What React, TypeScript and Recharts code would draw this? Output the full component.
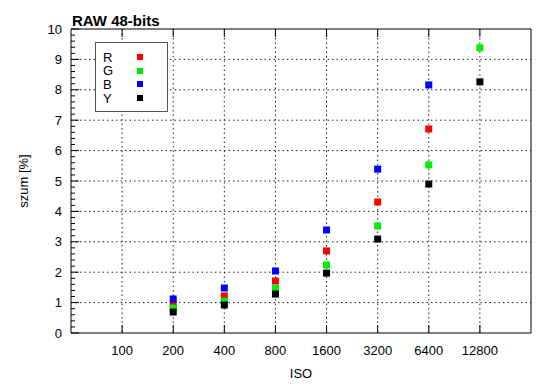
import React from 'react';
import {
  ScatterChart, Scatter, XAxis, YAxis, CartesianGrid, ReferenceArea,
} from 'recharts';

const isoLabels = ['100', '200', '400', '800', '1600', '3200', '6400', '12800'];
const rbIndex = [1, 2, 3, 4, 5, 6];
const gyIndex = [1, 2, 3, 4, 5, 6, 7];
const rValues = [0.95, 1.22, 1.71, 2.7, 4.31, 6.71];
const gValues = [0.82, 1.05, 1.48, 2.24, 3.52, 5.53, 9.38];
const bValues = [1.12, 1.48, 2.04, 3.39, 5.39, 8.16];
const yValues = [0.69, 0.92, 1.28, 1.97, 3.09, 4.9, 8.26];
const seriesNames = ['R', 'G', 'B', 'Y'];
const seriesColors = ['#ff0000', '#00ee00', '#0000ff', '#000000'];

const toPoints = (idx: number[], vals: number[]) => idx.map((x, i) => ({ x, y: vals[i] }));
const seriesData = [
  toPoints(rbIndex, rValues),
  toPoints(gyIndex, gValues),
  toPoints(rbIndex, bValues),
  toPoints(gyIndex, yValues),
];

const yTicks: number[] = [];
for (let i = 0; i <= 50; i++) yTicks.push(Math.round(i * 2) / 10);
const gridY = [1, 2, 3, 4, 5, 6, 7, 8, 9];
const xTicks = [0, 1, 2, 3, 4, 5, 6, 7];

const W = 550;
const H = 389;
const PL = 71;
const PR = 531;
const PT = 29;
const PB = 333;
const FONT = '"Liberation Sans", Arial, sans-serif';

const isMajor = (v: number) => Math.abs(v - Math.round(v)) < 1e-6;

const LeftTick = (props: any) => {
  const { y, payload } = props;
  const major = isMajor(payload.value);
  return (
    <g>
      <line x1={PL} x2={PL + (major ? 8 : 4)} y1={y} y2={y} stroke="#000" strokeWidth={1} />
      {major && (
        <text x={PL - 9} y={y} textAnchor="end" dominantBaseline="central" fontSize={13} fontFamily={FONT} fill="#000">
          {payload.value}
        </text>
      )}
    </g>
  );
};

const RightTick = (props: any) => {
  const { y, payload } = props;
  const major = isMajor(payload.value);
  return (
    <line x1={PR} x2={PR - (major ? 8 : 4)} y1={y} y2={y} stroke="#000" strokeWidth={1} />
  );
};

const BottomTick = (props: any) => {
  const { x, payload } = props;
  return (
    <g>
      <line x1={x} x2={x} y1={PB} y2={PB - 8} stroke="#000" strokeWidth={1} />
      <line x1={x} x2={x} y1={PT} y2={PT + 8} stroke="#000" strokeWidth={1} />
      <text x={x} y={PB + 17} textAnchor="middle" dominantBaseline="central" fontSize={13} fontFamily={FONT} fill="#000">
        {isoLabels[payload.value]}
      </text>
    </g>
  );
};

const makeShape = (color: string) => (props: any) => (
  <rect x={props.cx - 3.5} y={props.cy - 3.5} width={7} height={7} fill={color} />
);

const LegendBox = () => (
  <div
    style={{
      position: 'absolute',
      left: 95,
      top: 42,
      width: 71,
      height: 68,
      border: '1px solid #555',
      background: '#fff',
      fontFamily: FONT,
    }}
  >
    {seriesNames.map((n, i) => (
      <div key={n} style={{ position: 'absolute', left: 0, top: 7.5 + i * 13.7, height: 13, width: 70 }}>
        <span style={{ position: 'absolute', left: 7, top: 0, fontSize: 13, lineHeight: '13px', color: '#000' }}>{n}</span>
        <span
          style={{
            position: 'absolute',
            left: 41,
            top: 3.5,
            width: 6,
            height: 6,
            background: seriesColors[i],
          }}
        />
      </div>
    ))}
  </div>
);

export default function App() {
  return (
    <div style={{ position: 'absolute', left: 0, top: 0, width: W, height: H, background: '#fff' }}>
      <ScatterChart
        width={W}
        height={H}
        margin={{ top: PT, right: W - PR, bottom: 0, left: 0 }}
      >
        <CartesianGrid
          yAxisId="l"
          stroke="#222"
          strokeDasharray="1.5 3"
          horizontalValues={gridY}
          verticalValues={xTicks}
        />
        <XAxis
          type="number"
          dataKey="x"
          domain={[-1, 8]}
          ticks={xTicks}
          interval={0}
          height={H - PB}
          axisLine={false}
          tickLine={false}
          tick={<BottomTick />}
          label={{ value: 'ISO', position: 'insideBottom', offset: 11, fontSize: 13, fontFamily: FONT, fill: '#000' }}
        />
        <YAxis
          yAxisId="l"
          type="number"
          dataKey="y"
          domain={[0, 10]}
          ticks={yTicks}
          interval={0}
          width={PL}
          axisLine={false}
          tickLine={false}
          tick={<LeftTick />}
          label={{ value: 'szum [%]', angle: -90, position: 'insideLeft', offset: 23, fontSize: 13, fontFamily: FONT, fill: '#000', style: { textAnchor: 'middle' } }}
        />
        <YAxis
          yAxisId="r"
          orientation="right"
          type="number"
          dataKey="y"
          domain={[0, 10]}
          ticks={yTicks}
          interval={0}
          width={0}
          axisLine={false}
          tickLine={false}
          tick={<RightTick />}
        />
        <ReferenceArea yAxisId="l" x1={-1} x2={8} y1={0} y2={10} fill="none" fillOpacity={0} stroke="#000" strokeWidth={1} />
        {seriesData.map((d, i) => (
          <Scatter
            key={seriesNames[i]}
            yAxisId="l"
            name={seriesNames[i]}
            data={d}
            fill={seriesColors[i]}
            shape={makeShape(seriesColors[i])}
            isAnimationActive={false}
          />
        ))}
        <text x={72} y={26} fontSize={15} fontWeight="bold" fontFamily={FONT} fill="#000">
          RAW 48-bits
        </text>
      </ScatterChart>
      <LegendBox />
    </div>
  );
}
